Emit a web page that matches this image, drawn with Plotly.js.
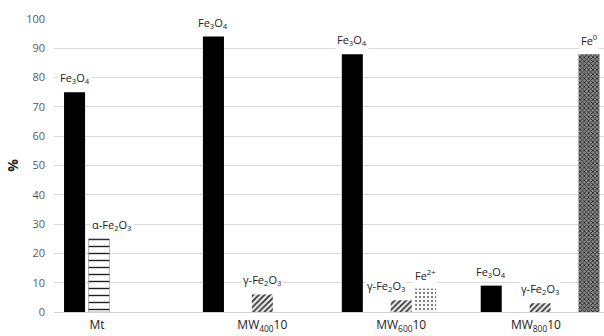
<!DOCTYPE html>
<html><head><meta charset="utf-8">
<script src="https://cdn.plot.ly/plotly-3.0.1.min.js"></script>
<style>html,body{margin:0;padding:0;overflow:hidden;background:#fff}</style>
</head><body><div id="c" style="width:604px;height:336px"></div>
<script>
const categories = [0, 1, 2, 3];
const tickLabels = ["Mt", "MW<sub>400</sub>10", "MW<sub>600</sub>10", "MW<sub>800</sub>10"];
const seriesNames = ["Fe<sub>3</sub>O<sub>4</sub>", "α-Fe<sub>2</sub>O<sub>3</sub>", "γ-Fe<sub>2</sub>O<sub>3</sub>", "Fe<sup>2+</sup>", "Fe<sup>0</sup>"];
const fe3o4 = [75, 94, 88, 9];
const alphaFe2o3 = [25, null, null, null];
const gammaFe2o3 = [null, 6, 4, 3];
const fe2plus = [null, null, 8, null];
const fe0 = [null, null, null, 88];
const series = [fe3o4, alphaFe2o3, gammaFe2o3, fe2plus, fe0];

const styles = [
  {color: "#000", pattern: {shape: ""}},
  {color: "#fff", pattern: {shape: "-", fgcolor: "#222", bgcolor: "#fff", size: 7, solidity: 0.2}, line: {color: "#888", width: 0.6}},
  {color: "#fff", pattern: {shape: "/", fgcolor: "#333", bgcolor: "#eee", size: 4, solidity: 0.45}},
  {color: "#fff", pattern: {shape: ".", fgcolor: "#555", bgcolor: "#f7f7f7", size: 4, solidity: 0.2}},
  {color: "#777", pattern: {shape: "x", fgcolor: "#222", bgcolor: "#888", size: 3, solidity: 0.45}}
];

const bargap = 0.12;
const nSlots = series.length;
const traces = series.map((vals, k) => ({
  type: "bar", x: categories, y: vals, name: seriesNames[k],
  marker: Object.assign({color: styles[k].color, pattern: styles[k].pattern}, styles[k].line ? {line: styles[k].line} : {line: {width: 0}}),
  hoverinfo: "y"
}));

// label pixel shifts (manual label placement as in the original)
const xShift = {"1-0": 13, "2-2": -15};
const annotations = [];
series.forEach((vals, k) => {
  vals.forEach((v, i) => {
    if (v === null) return;
    const slotW = (1 - bargap) / nSlots;
    annotations.push({
      x: categories[i] + (k - (nSlots - 1) / 2) * slotW,
      y: v, xref: "x", yref: "y", text: seriesNames[k], showarrow: false,
      yanchor: "bottom", yshift: 4, xshift: xShift[k + "-" + i] || 0,
      bgcolor: "#fff", borderpad: 1,
      font: {family: "Open Sans, Noto Sans, sans-serif", size: 11, color: "#222"}
    });
  });
});

const layout = {
  width: 604, height: 336,
  margin: {l: 54, r: 0, t: 19, b: 24},
  paper_bgcolor: "#fff", plot_bgcolor: "#fff",
  barmode: "group", bargap: bargap, bargroupgap: 0.14,
  showlegend: false,
  xaxis: {
    range: [-0.5, 3.46], tickmode: "array",
    tickvals: [-0.19, 1, 2, 2.97], ticktext: tickLabels,
    showgrid: false, zeroline: false, showline: true, linecolor: "#d0d0d0", linewidth: 1,
    ticks: "", ticklabelstandoff: 2,
    tickfont: {family: "Open Sans, Noto Sans, sans-serif", size: 12, color: "#222"}
  },
  yaxis: {
    range: [0, 100], dtick: 10, showgrid: true, gridcolor: "#d9d9d9", gridwidth: 1,
    zeroline: false, showline: false, ticks: "", ticklabelstandoff: 8,
    tickfont: {family: "Open Sans, Noto Sans, sans-serif", size: 11, color: "#595959"},
    title: {text: "<b>%</b>", standoff: 4, font: {family: "Open Sans, Noto Sans, sans-serif", size: 14, color: "#222"}}
  },
  annotations: annotations
};

Plotly.newPlot("c", traces, layout, {displayModeBar: false, staticPlot: true});
</script></body></html>
